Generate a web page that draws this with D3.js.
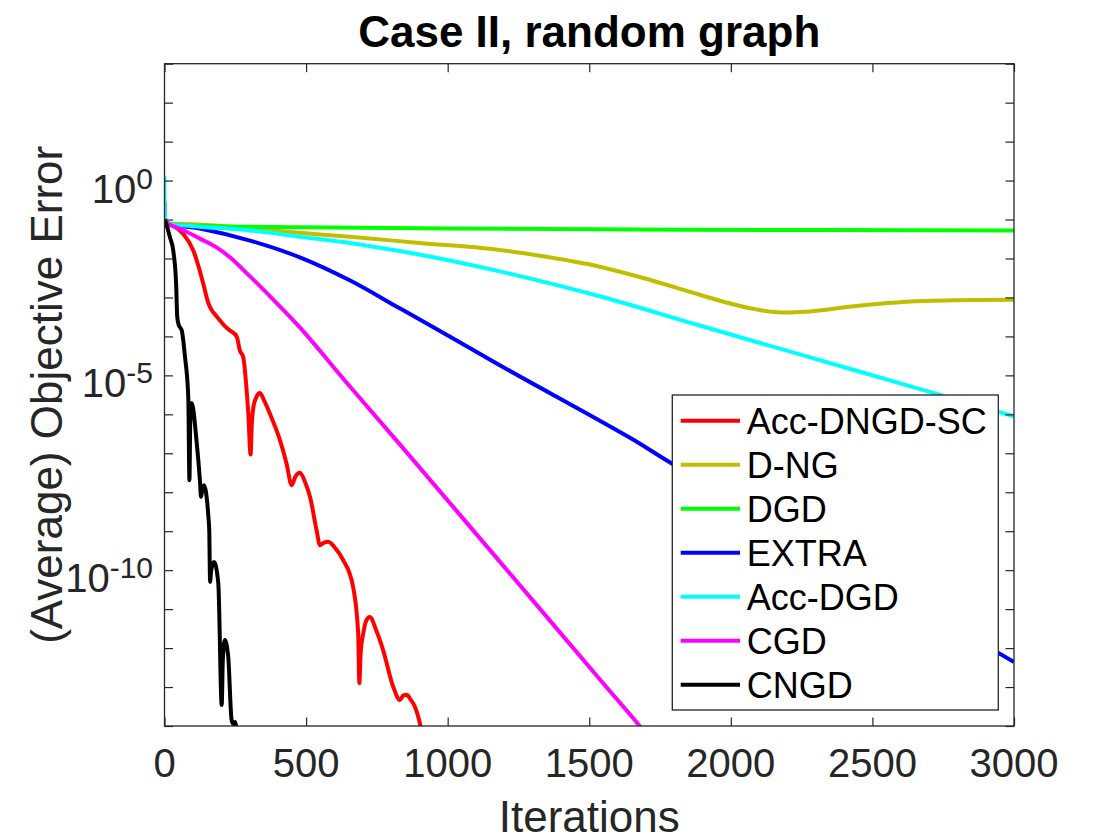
<!DOCTYPE html>
<html>
<head>
<meta charset="utf-8">
<script src="https://cdn.jsdelivr.net/npm/d3@7"></script>
<style>
  body { margin: 0; background: #fff; }
  text { font-family: "Liberation Sans", Arial, Helvetica, sans-serif; }
</style>
</head>
<body>
<div id="chart"></div>
<script>
// Data: iteration, log10 of the (average) objective error

var names = ["Acc-DNGD-SC", "D-NG", "DGD", "EXTRA", "Acc-DGD", "CGD", "CNGD"];
var colors = ["#ff0000", "#bfbf00", "#00ff00", "#0000ff", "#00ffff", "#ff00ff", "#000000"];
var oscillating = [true, false, false, false, false, false, true];

var accDngdScIt = [0, 8, 40, 66, 102, 120, 137, 155, 167, 180, 196, 215, 231, 255, 266, 278, 288, 296, 304, 308, 314, 325, 337, 352, 372, 408, 431, 449, 462, 478, 497, 514, 537, 549, 562, 578, 605, 631, 666, 684, 688, 693, 702, 712, 725, 748, 772, 808, 831, 843, 855, 870, 884, 904, 912];
var accDngdScLog = [-1.0, -1.07, -1.2, -1.37, -1.8, -2.2, -2.65, -3.15, -3.33, -3.45, -3.59, -3.75, -3.85, -4.0, -4.36, -4.53, -5.2, -5.98, -7.03, -6.3, -5.81, -5.55, -5.45, -5.65, -5.98, -6.67, -7.26, -7.82, -7.6, -7.5, -7.75, -8.12, -8.97, -9.36, -9.3, -9.27, -9.45, -9.74, -10.43, -11.62, -12.9, -12.1, -11.62, -11.3, -11.2, -11.55, -12.05, -13.0, -13.33, -13.22, -13.2, -13.33, -13.5, -14.0, -14.3];

var dngIt = [0, 8, 100, 300, 478, 654, 900, 1149, 1343, 1537, 1700, 1844, 1964, 2084, 2168, 2263, 2442, 2620, 2800, 3000];
var dngLog = [-1.0, -1.08, -1.12, -1.22, -1.34, -1.44, -1.6, -1.75, -1.95, -2.21, -2.52, -2.83, -3.09, -3.3, -3.38, -3.37, -3.22, -3.11, -3.07, -3.06];

var dgdIt = [0, 10, 100, 478, 1000, 1819, 3000];
var dgdLog = [-1.0, -1.1, -1.15, -1.2, -1.23, -1.26, -1.28];

var extraIt = [0, 3, 10, 125, 302, 478, 654, 831, 1007, 1184, 1653, 1784, 2500, 3000];
var extraLog = [-0.55, -1.0, -1.1, -1.23, -1.54, -1.97, -2.56, -3.28, -4.0, -4.74, -6.64, -7.23, -10.23, -12.36];

var accDgdIt = [0, 3, 8, 100, 302, 478, 654, 831, 1007, 1184, 1537, 1890, 2419, 3000];
var accDgdLog = [0.11, -1.0, -1.1, -1.17, -1.28, -1.44, -1.6, -1.81, -2.05, -2.33, -2.97, -3.72, -4.83, -6.05];

var cgdIt = [0, 5, 65, 125, 178, 231, 302, 390, 478, 654, 831, 1184, 1537, 1678, 1710];
var cgdLog = [-1.0, -1.08, -1.27, -1.49, -1.69, -1.97, -2.46, -3.1, -3.77, -5.28, -6.77, -9.78, -12.8, -14.0, -14.3];

var cngdIt = [0, 2, 10, 19, 31, 41, 45, 50, 61, 72, 84, 88, 91, 96, 113, 125, 129, 133, 139, 155, 158, 161, 165, 175, 190, 202, 206, 213, 225, 237, 243, 249, 255, 258];
var cngdLog = [-1.0, -1.03, -1.2, -1.45, -1.8, -2.65, -3.5, -3.7, -3.85, -4.5, -5.56, -7.69, -6.2, -5.71, -6.67, -7.69, -8.12, -7.95, -7.82, -8.63, -8.97, -10.3, -10.0, -9.79, -10.34, -13.46, -12.3, -11.79, -12.22, -13.85, -13.95, -13.9, -14.1, -14.4];

var seriesIt = [accDngdScIt, dngIt, dgdIt, extraIt, accDgdIt, cgdIt, cngdIt];
var seriesLog = [accDngdScLog, dngLog, dgdLog, extraLog, accDgdLog, cgdLog, cngdLog];

var xTicks = [0, 500, 1000, 1500, 2000, 2500, 3000];
var yTickExp = d3.range(-14, 4);     // a tick every decade
var yLabelExp = [0, -5, -10];       // labelled decades

// Layout
var W = 1120, H = 840;
var plot = {left: 164.5, top: 63.7, right: 1014, bottom: 726};
var axisColor = "#262626";

var svg = d3.select("#chart").append("svg")
    .attr("width", W)
    .attr("height", H);

var x = d3.scaleLinear().domain([0, 3000]).range([plot.left, plot.right]);
var y = d3.scaleLog().domain([1e-14, 1e3]).range([plot.bottom, plot.top]);

svg.append("clipPath").attr("id", "clip")
  .append("rect")
    .attr("x", plot.left)
    .attr("y", plot.top)
    .attr("width", plot.right - plot.left)
    .attr("height", plot.bottom - plot.top);

// Curves: monotone for the oscillating ones (keeps the sharp dips), smooth spline otherwise
var lineSharp = d3.line()
    .x(function(d) { return x(d[0]); })
    .y(function(d) { return y(d[1]); })
    .curve(d3.curveMonotoneX);
var lineSmooth = d3.line()
    .x(function(d) { return x(d[0]); })
    .y(function(d) { return y(d[1]); })
    .curve(d3.curveCatmullRom.alpha(0.5));

var curves = svg.append("g").attr("clip-path", "url(#clip)");
for (var i = 0; i < names.length; i++) {
    var pts = seriesIt[i].map(function(it, j) { return [it, Math.pow(10, seriesLog[i][j])]; });
    curves.append("path")
      .datum(pts)
      .attr("fill", "none")
      .attr("stroke", colors[i])
      .attr("stroke-width", 4)
      .attr("stroke-linejoin", "round")
      .attr("d", oscillating[i] ? lineSharp : lineSmooth);
}

// Axes: inward ticks on all four sides
var tickLen = 8.5;
var yTickVals = yTickExp.map(function(e) { return Math.pow(10, e); });

svg.append("g")
    .attr("transform", "translate(0," + plot.bottom + ")")
    .call(d3.axisBottom(x).tickValues(xTicks).tickSize(-tickLen).tickFormat(""));
svg.append("g")
    .attr("transform", "translate(0," + plot.top + ")")
    .call(d3.axisTop(x).tickValues(xTicks).tickSize(-tickLen).tickFormat(""));
svg.append("g")
    .attr("transform", "translate(" + plot.left + ",0)")
    .call(d3.axisLeft(y).tickValues(yTickVals).tickSize(-tickLen).tickFormat(""));
svg.append("g")
    .attr("transform", "translate(" + plot.right + ",0)")
    .call(d3.axisRight(y).tickValues(yTickVals).tickSize(-tickLen).tickFormat(""));

svg.selectAll(".domain").remove();
svg.selectAll(".tick line").attr("stroke", axisColor).attr("stroke-width", 1.2);

svg.append("rect")
    .attr("x", plot.left)
    .attr("y", plot.top)
    .attr("width", plot.right - plot.left)
    .attr("height", plot.bottom - plot.top)
    .attr("fill", "none")
    .attr("stroke", axisColor)
    .attr("stroke-width", 1.3);

// Tick labels
svg.append("g").selectAll("text")
  .data(xTicks)
  .enter().append("text")
    .attr("x", function(d) { return x(d); })
    .attr("y", 777)
    .attr("text-anchor", "middle")
    .attr("font-size", 40)
    .attr("fill", axisColor)
    .text(function(d) { return d; });

var yl = svg.append("g").selectAll("text")
  .data(yLabelExp)
  .enter().append("text")
    .attr("x", 153)
    .attr("y", function(d) { return y(Math.pow(10, d)) + 22; })
    .attr("text-anchor", "end")
    .attr("fill", axisColor);
yl.append("tspan").attr("font-size", 40).text("10");
yl.append("tspan").attr("font-size", 30).attr("dy", -14).text(function(d) { return d; });

// Title and axis labels
svg.append("text")
    .attr("x", (plot.left + plot.right) / 2)
    .attr("y", 47)
    .attr("text-anchor", "middle")
    .attr("font-size", 44)
    .attr("font-weight", "bold")
    .attr("fill", "#000")
    .text("Case II, random graph");

svg.append("text")
    .attr("x", (plot.left + plot.right) / 2)
    .attr("y", 832)
    .attr("text-anchor", "middle")
    .attr("font-size", 44)
    .attr("fill", axisColor)
    .text("Iterations");

svg.append("text")
    .attr("transform", "translate(62," + ((plot.top + plot.bottom) / 2) + ") rotate(-90)")
    .attr("text-anchor", "middle")
    .attr("font-size", 44)
    .attr("fill", axisColor)
    .text("(Average) Objective Error");

// Legend
var lg = {x: 672.3, y: 395, w: 326, h: 315, row0: 420.7, rowStep: 44};
var legend = svg.append("g");
legend.append("rect")
    .attr("x", lg.x)
    .attr("y", lg.y)
    .attr("width", lg.w)
    .attr("height", lg.h)
    .attr("fill", "#fff")
    .attr("stroke", axisColor)
    .attr("stroke-width", 1.3);

var rows = legend.selectAll(".row")
  .data(names)
  .enter().append("g")
    .attr("transform", function(d, i) { return "translate(0," + (lg.row0 + i * lg.rowStep) + ")"; });
rows.append("line")
    .attr("x1", 680.7)
    .attr("x2", 740)
    .attr("stroke", function(d, i) { return colors[i]; })
    .attr("stroke-width", 4);
rows.append("text")
    .attr("x", 746.7)
    .attr("y", 13)
    .attr("font-size", 36)
    .attr("fill", "#000")
    .text(function(d) { return d; });
</script>
</body>
</html>
